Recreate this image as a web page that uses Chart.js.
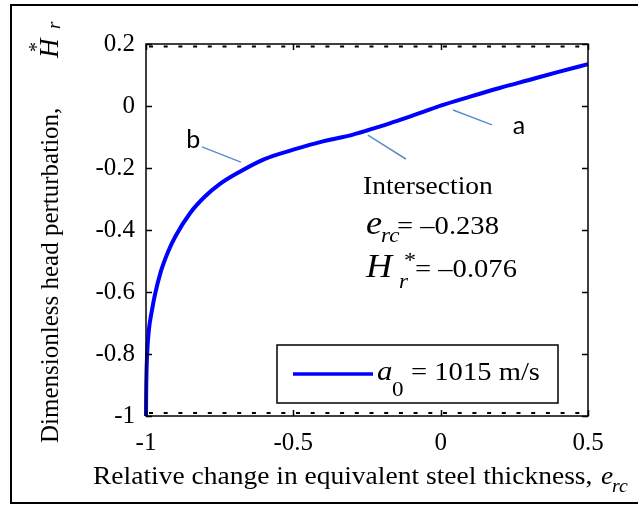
<!DOCTYPE html>
<html>
<head>
<meta charset="utf-8">
<script src="https://cdn.jsdelivr.net/npm/chart.js@4.4.0/dist/chart.umd.min.js"></script>
<style>
  html, body { margin: 0; padding: 0; background: #fff; }
  #wrap { width: 638px; height: 506px; }
</style>
</head>
<body>
<div id="wrap"><canvas id="headChart" width="638" height="506"></canvas></div>
<script>
// relative change in equivalent steel thickness (x) and head perturbation (y)
const erc = [-1, -0.9995, -0.998, -0.995, -0.99, -0.98, -0.97, -0.95, -0.925, -0.9, -0.85, -0.8, -0.75,
             -0.7, -0.6, -0.5, -0.4, -0.3, -0.25, -0.2, -0.15, -0.1, -0.05, 0, 0.1, 0.2, 0.3, 0.4, 0.5];
const hr  = [-1, -0.93, -0.85, -0.78, -0.72, -0.66, -0.61, -0.535, -0.47, -0.42, -0.345, -0.292, -0.252,
             -0.222, -0.172, -0.141, -0.114, -0.093, -0.079, -0.064, -0.049, -0.033, -0.016, 0.001, 0.03, 0.058, 0.084, 0.11, 0.135];
const xTicks = [-1, -0.5, 0, 0.5];
const yTicks = [-1, -0.8, -0.6, -0.4, -0.2, 0, 0.2];
const waveSpeed = '1015 m/s';
const intersection = { erc: '-0.238', hr: '-0.076' };

const serif = '"Liberation Serif", "Times New Roman", serif';
const sans = 'Lato, "Open Sans", sans-serif';
const STRETCH = 1.1;

// draw a run of text pieces, each at its own x / baseline
function pieces(ctx, list) {
  list.forEach(p => {
    ctx.save();
    ctx.font = p.f;
    ctx.textAlign = 'left';
    ctx.textBaseline = 'alphabetic';
    ctx.translate(p.x, p.y);
    ctx.scale(p.s || STRETCH, 1);
    ctx.fillText(p.t, 0, 0);
    ctx.restore();
  });
}

const paper = {
  id: 'paper',
  beforeDraw(chart) {
    const ctx = chart.ctx;
    ctx.save();
    ctx.fillStyle = '#fff';
    ctx.fillRect(0, 0, chart.width, chart.height);
    ctx.restore();
  },
  afterDraw(chart) {
    const { ctx, chartArea: a, scales: { x, y } } = chart;
    ctx.save();
    ctx.strokeStyle = '#000';
    ctx.fillStyle = '#000';

    // dotted lines just inside top and bottom
    ctx.lineWidth = 2;
    ctx.setLineDash([4, 10.7]);
    ctx.beginPath();
    ctx.moveTo(a.left + 3, a.top + 2.5); ctx.lineTo(a.right - 2, a.top + 2.5);
    ctx.moveTo(a.left + 3, a.bottom - 3); ctx.lineTo(a.right - 2, a.bottom - 3);
    ctx.stroke();
    ctx.setLineDash([]);

    // axes box
    ctx.lineWidth = 1.5;
    ctx.strokeRect(a.left, a.top, a.right - a.left, a.bottom - a.top);

    // inward ticks
    ctx.beginPath();
    y.ticks.forEach(t => {
      const py = Math.round(y.getPixelForValue(t.value)) + 0.5;
      ctx.moveTo(a.left, py); ctx.lineTo(a.left + 6, py);
      ctx.moveTo(a.right, py); ctx.lineTo(a.right - 6, py);
    });
    x.ticks.forEach(t => {
      const px = Math.round(x.getPixelForValue(t.value)) + 0.5;
      ctx.moveTo(px, a.bottom); ctx.lineTo(px, a.bottom - 6);
      ctx.moveTo(px, a.top); ctx.lineTo(px, a.top + 6);
    });
    ctx.stroke();

    // annotation leader lines
    ctx.strokeStyle = '#5b8fc9';
    ctx.lineWidth = 1.5;
    const leaders = [
      [0.042, -0.013, 0.174, -0.061],
      [-0.81, -0.132, -0.678, -0.181],
      [-0.247, -0.094, -0.118, -0.171]
    ];
    ctx.beginPath();
    leaders.forEach(l => {
      ctx.moveTo(x.getPixelForValue(l[0]), y.getPixelForValue(l[1]));
      ctx.lineTo(x.getPixelForValue(l[2]), y.getPixelForValue(l[3]));
    });
    ctx.stroke();

    ctx.font = '25px ' + sans;
    ctx.textAlign = 'center';
    ctx.textBaseline = 'middle';
    ctx.fillText('a', x.getPixelForValue(0.266), y.getPixelForValue(-0.065));
    ctx.fillText('b', x.getPixelForValue(-0.84), y.getPixelForValue(-0.11));

    // intersection text
    pieces(ctx, [
      { t: 'Intersection', f: '25px ' + serif, x: 363, y: 194 },
      { t: 'e', f: 'italic 33px ' + serif, x: 366, y: 234 },
      { t: 'rc', f: 'italic 21px ' + serif, x: 381, y: 242 },
      { t: '= \u2013' + intersection.erc.slice(1), f: '26px ' + serif, x: 397, y: 234 },
      { t: 'H', f: 'italic 33px ' + serif, x: 366, y: 277 },
      { t: '*', f: '22px ' + serif, x: 404, y: 267 },
      { t: 'r', f: 'italic 21px ' + serif, x: 399, y: 288 },
      { t: '= \u2013' + intersection.hr.slice(1), f: '26px ' + serif, x: 415, y: 277 }
    ]);

    // legend box
    const ds = chart.data.datasets[0];
    ctx.fillStyle = '#fff';
    ctx.strokeStyle = '#000';
    ctx.lineWidth = 1.5;
    ctx.fillRect(277, 345, 281, 58);
    ctx.strokeRect(277, 345, 281, 58);
    ctx.strokeStyle = ds.borderColor;
    ctx.lineWidth = 3.5;
    ctx.beginPath();
    ctx.moveTo(293, 374); ctx.lineTo(373, 374);
    ctx.stroke();
    ctx.fillStyle = '#000';
    pieces(ctx, [
      { t: 'a', f: 'italic 28px ' + serif, x: 377, y: 380 },
      { t: '0', f: '21px ' + serif, x: 392, y: 396 },
      { t: '= ' + ds.label, f: '26px ' + serif, x: 411, y: 380 }
    ]);

    // axis titles
    pieces(ctx, [
      { t: 'Relative change in equivalent steel thickness,', f: '25px ' + serif, x: 93, y: 484 },
      { t: 'e', f: 'italic 25px ' + serif, x: 601, y: 484 },
      { t: 'rc', f: 'italic 18px ' + serif, x: 612, y: 492 }
    ]);
    ctx.save();
    ctx.translate(58, 443);
    ctx.rotate(-Math.PI / 2);
    pieces(ctx, [
      { t: 'Dimensionless head perturbation,', f: '25px ' + serif, x: 0, y: 0, s: 1 },
      { t: 'H', f: 'italic 27px ' + serif, x: 385, y: 0, s: 1 },
      { t: '*', f: '20px ' + serif, x: 391, y: -15, s: 1 },
      { t: 'r', f: 'italic 19px ' + serif, x: 414, y: 2, s: 1 }
    ]);
    ctx.restore();

    // outer frame
    ctx.strokeStyle = '#000';
    ctx.lineWidth = 2;
    ctx.beginPath();
    ctx.moveTo(640, 5); ctx.lineTo(11, 5); ctx.lineTo(11, 503); ctx.lineTo(640, 503);
    ctx.stroke();
    ctx.restore();
  }
};

const tickFont = { family: serif, size: 25 };

new Chart(document.getElementById('headChart'), {
  type: 'scatter',
  data: {
    datasets: [{
      label: waveSpeed,
      data: erc.map((v, i) => ({ x: v, y: hr[i] })),
      showLine: true,
      borderColor: '#0000ff',
      borderWidth: 4,
      pointRadius: 0,
      cubicInterpolationMode: 'monotone',
      clip: 4
    }]
  },
  options: {
    responsive: false,
    animation: false,
    devicePixelRatio: 1,
    layout: { padding: { left: 0, top: 44, right: 50, bottom: 0 } },
    plugins: { legend: { display: false }, tooltip: { enabled: false } },
    scales: {
      x: {
        type: 'linear', min: -1, max: 0.5,
        afterBuildTicks: s => { s.ticks = xTicks.map(v => ({ value: v })); },
        afterFit: s => { s.height = 90; },
        grid: { display: false, drawTicks: false },
        border: { display: false },
        ticks: { font: tickFont, color: '#000', padding: 12, maxRotation: 0, callback: v => String(v) }
      },
      y: {
        type: 'linear', min: -1, max: 0.2,
        afterBuildTicks: s => { s.ticks = yTicks.map(v => ({ value: v })); },
        afterFit: s => { s.width = 146; },
        grid: { display: false, drawTicks: false },
        border: { display: false },
        ticks: { font: tickFont, color: '#000', padding: 11, callback: v => String(v) }
      }
    }
  },
  plugins: [paper]
});
</script>
</body>
</html>
